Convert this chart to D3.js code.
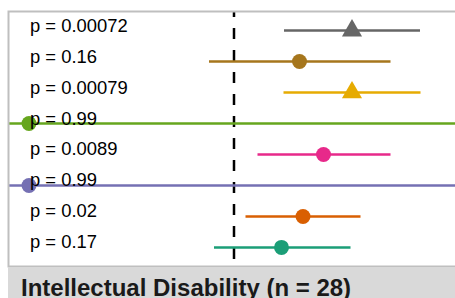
<!DOCTYPE html>
<html lang="en">
<head>
<meta charset="UTF-8">
<script src="https://cdnjs.cloudflare.com/ajax/libs/d3/7.8.5/d3.min.js"></script>
<style>
body { margin: 0; background: white; }
svg { display: block; }
.plabel { font: 18.4px "Liberation Sans", Arial, sans-serif; fill: #000; }
.strip-text { font: bold 24px "Liberation Sans", Arial, sans-serif; fill: #1a1a1a; }
</style>
</head>
<body>
<script>
// rows top to bottom
var rows    = ["r1", "r2", "r3", "r4", "r5", "r6", "r7", "r8"];
var pvals   = ["p = 0.00072", "p = 0.16", "p = 0.00079", "p = 0.99", "p = 0.0089", "p = 0.99", "p = 0.02", "p = 0.17"];
var est     = [2.36, 1.31, 2.36, -4.1, 1.79, -4.1, 1.38, 0.95];
var lower   = [1.00, -0.50, 0.99, -20, 0.47, -20, 0.23, -0.40];
var upper   = [3.72, 3.13, 3.73, 20, 3.13, 20, 2.53, 2.33];
var shapes  = ["triangle", "circle", "triangle", "circle", "circle", "circle", "circle", "circle"];
var colors  = ["#666666", "#A6761D", "#E6AB02", "#66A61E", "#E7298A", "#7570B3", "#D95F02", "#1B9E77"];
var labelX  = -4.08;
var nullX   = 0;
var stripLabel = "Intellectual Disability (n = 28)";

var W = 455, H = 298;
var panel = {left: 9, top: 12, right: 459, bottom: 266};

var data = rows.map(function(r, i) {
  return {row: r, p: pvals[i], est: est[i], lo: lower[i], hi: upper[i], shape: shapes[i], color: colors[i]};
});

var x = d3.scaleLinear().domain([-4.5, 4.5]).range([panel.left, panel.right]);
var y = d3.scalePoint().domain(rows).range([panel.top, panel.bottom]).padding(0.6);

var svg = d3.select("body").append("svg")
  .attr("width", W)
  .attr("height", H);

svg.append("defs").append("clipPath")
  .attr("id", "clip")
  .append("rect")
  .attr("x", panel.left)
  .attr("y", panel.top)
  .attr("width", panel.right - panel.left)
  .attr("height", panel.bottom - panel.top);

var g = svg.append("g").attr("clip-path", "url(#clip)");

// null line
g.append("line")
  .attr("x1", x(nullX)).attr("x2", x(nullX))
  .attr("y1", panel.top).attr("y2", panel.bottom)
  .attr("stroke", "#000")
  .attr("stroke-width", 2.5)
  .attr("stroke-dasharray", "11,11")
  .attr("stroke-dashoffset", 6);

// CIs
g.selectAll(".ci")
  .data(data)
  .enter().append("line")
  .attr("class", "ci")
  .attr("x1", d => x(d.lo))
  .attr("x2", d => x(d.hi))
  .attr("y1", d => y(d.row))
  .attr("y2", d => y(d.row))
  .attr("stroke", d => d.color)
  .attr("stroke-width", 2.5);

// points
g.selectAll(".pt")
  .data(data)
  .enter().append("path")
  .attr("class", "pt")
  .attr("transform", d => "translate(" + x(d.est) + "," + y(d.row) + ")")
  .attr("d", d => d.shape == "triangle"
      ? d3.symbol().type(d3.symbolTriangle).size(175)()
      : d3.symbol().type(d3.symbolCircle).size(Math.PI * 7.5 * 7.5)())
  .attr("fill", d => d.color);

// p labels
g.selectAll(".plabel")
  .data(data)
  .enter().append("text")
  .attr("class", "plabel")
  .attr("x", x(labelX))
  .attr("y", d => y(d.row) + 1)
  .text(d => d.p);

// panel border
svg.append("rect")
  .attr("x", panel.left - 0.5)
  .attr("y", panel.top - 0.5)
  .attr("width", panel.right - panel.left + 1)
  .attr("height", panel.bottom - panel.top + 1)
  .attr("fill", "none")
  .attr("stroke", "#bfbfbf")
  .attr("stroke-width", 2);

// strip
svg.append("rect")
  .attr("x", panel.left - 1)
  .attr("y", panel.bottom + 1)
  .attr("width", panel.right - panel.left + 2)
  .attr("height", 40)
  .attr("fill", "#d9d9d9");

svg.append("text")
  .attr("class", "strip-text")
  .attr("x", 21)
  .attr("y", 296)
  .text(stripLabel);
</script>
</body>
</html>
